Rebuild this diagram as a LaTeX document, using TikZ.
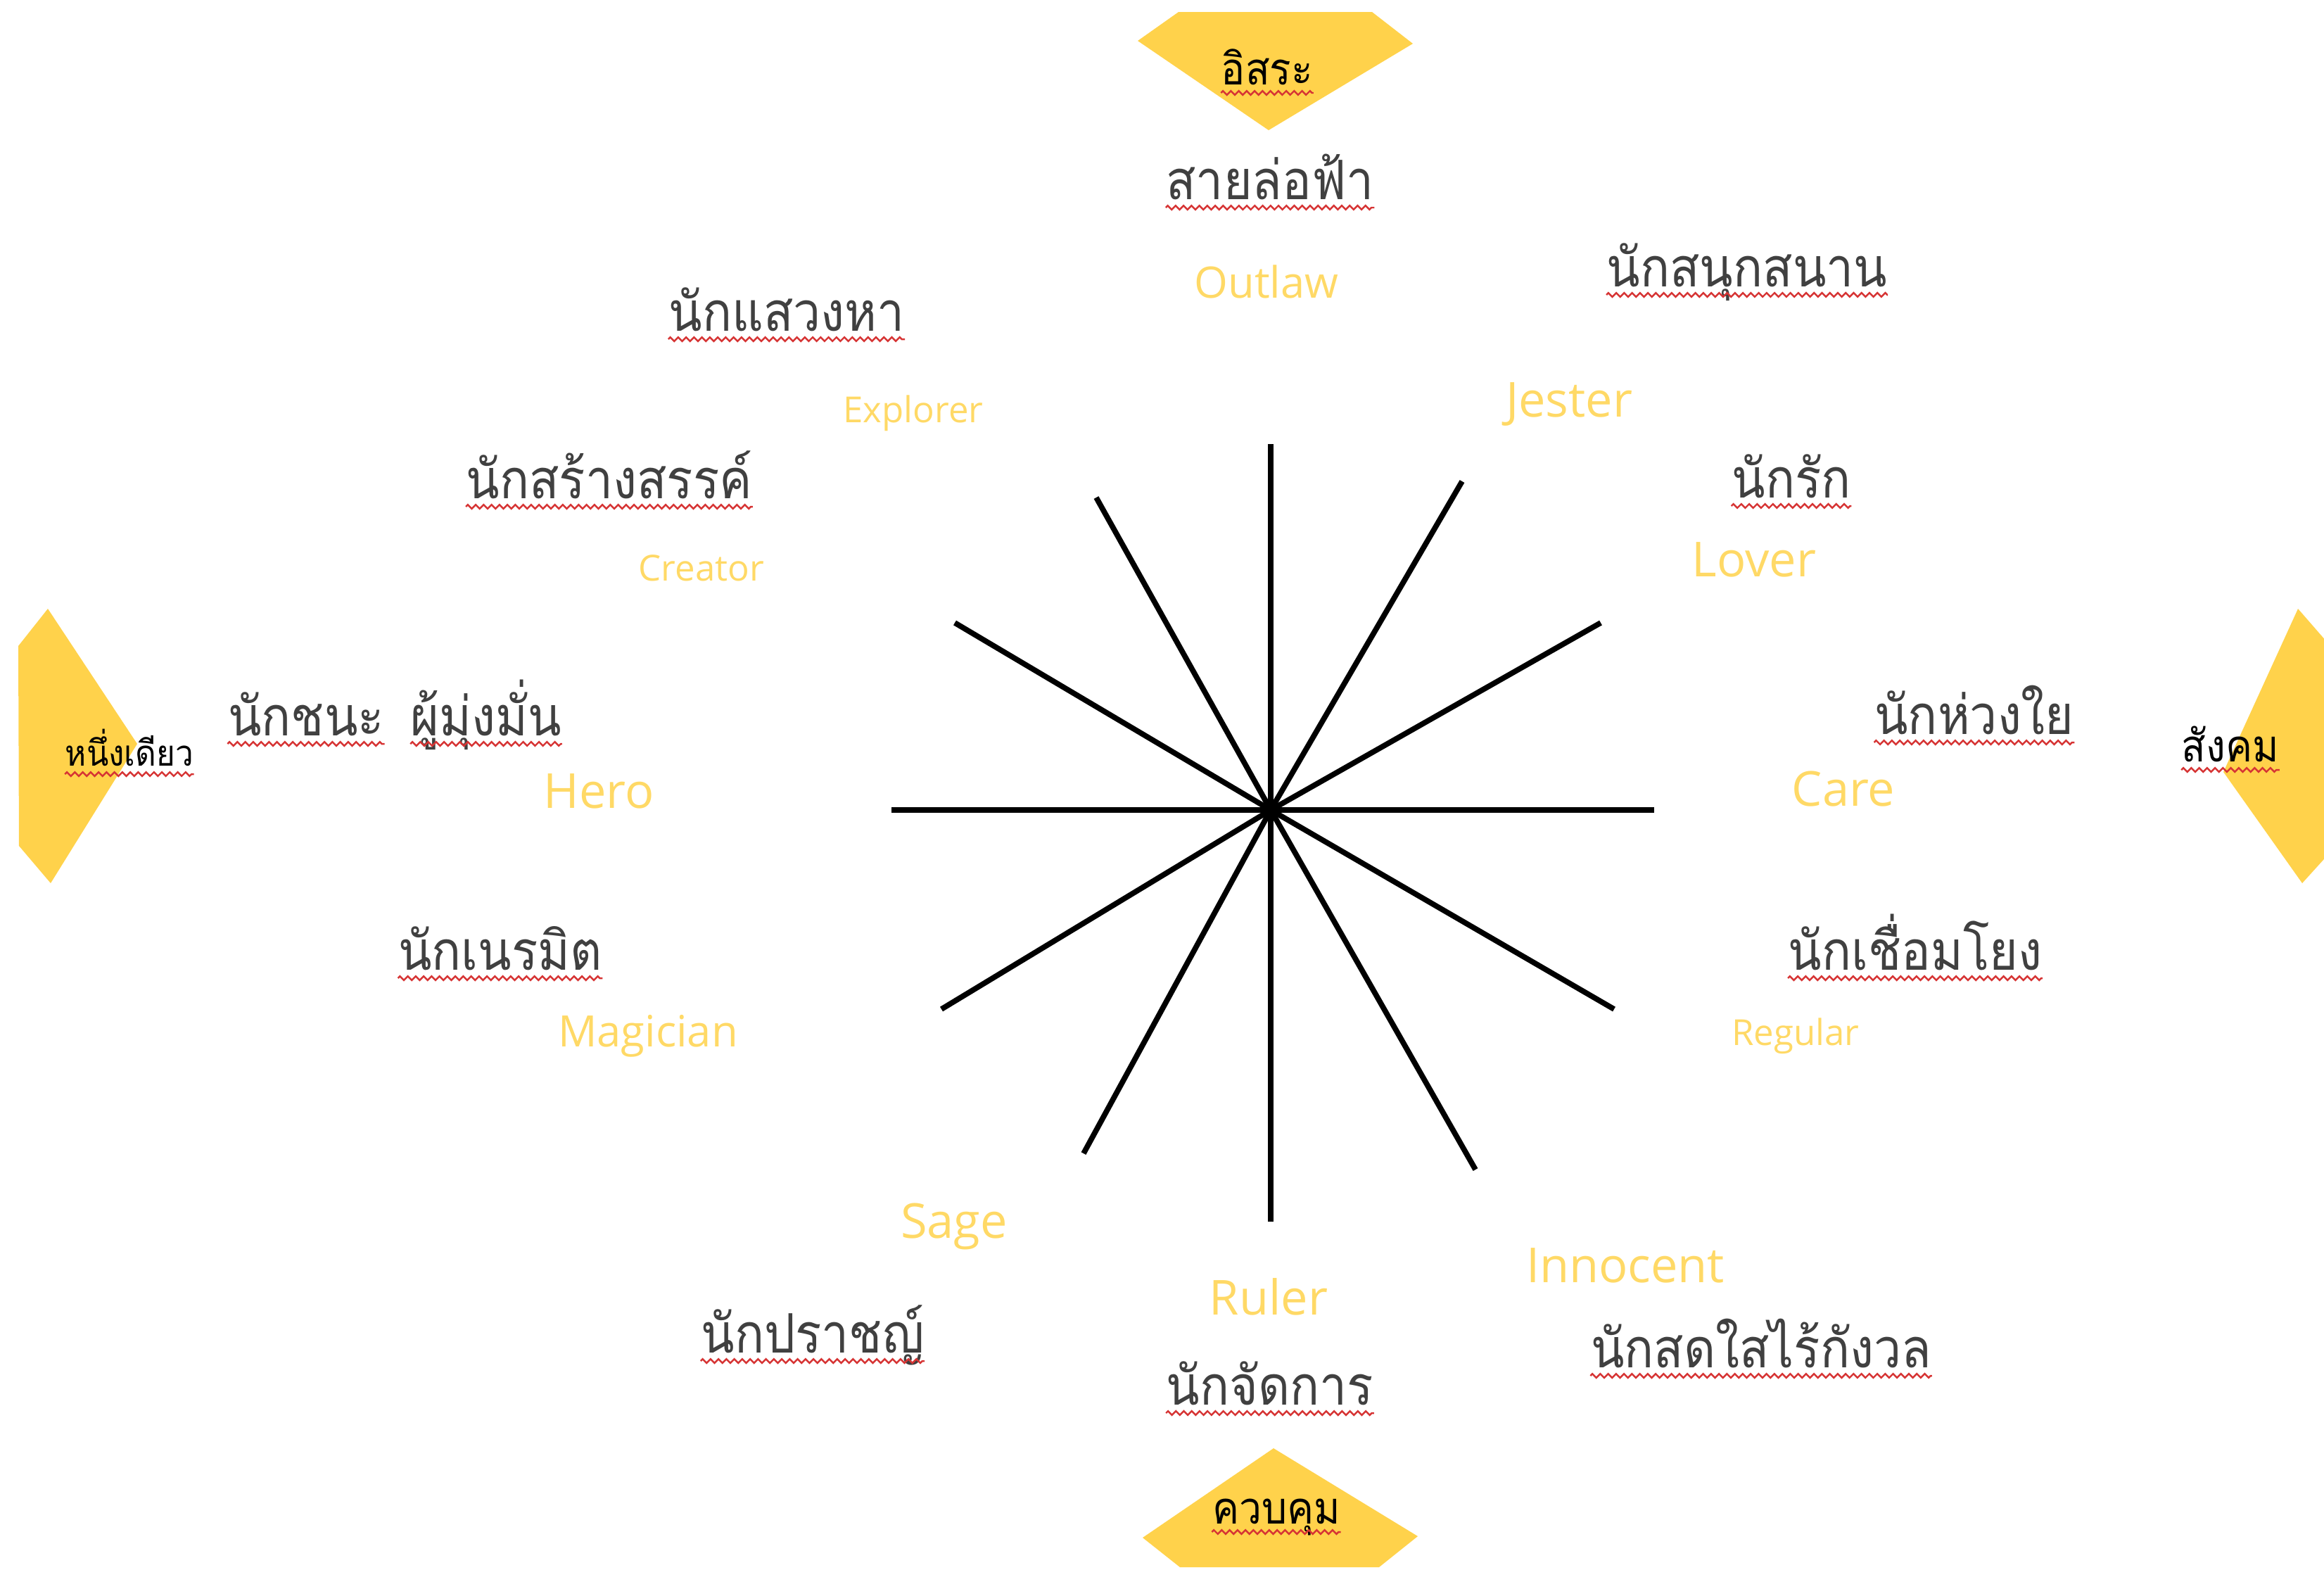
\documentclass[tikz,border=0pt]{standalone}
\usepackage{fontspec}
\setmainfont{Open Sans}
\newfontfamily\thaifont[Script=Thai, FakeStretch=0.9]{Loma}
\usepackage{tikz}
\usetikzlibrary{decorations.pathmorphing}
\definecolor{mygold}{RGB}{255,210,75}
\definecolor{mylabel}{RGB}{255,217,102}
\definecolor{myink}{RGB}{64,64,64}
\definecolor{mywave}{RGB}{214,52,52}
\tikzset{
  thai/.style={inner sep=0pt, anchor=base, text=myink,
    font=\thaifont\fontsize{22}{26}\selectfont},
  thaismall/.style={inner sep=0pt, anchor=base, text=black,
    font=\thaifont\fontsize{18}{22}\selectfont},
  latbig/.style={inner sep=0pt, anchor=base, text=mylabel,
    font=\fontsize{19.5}{23}\selectfont},
  latmid/.style={latbig, font=\fontsize{17.5}{21}\selectfont},
  latsmall/.style={latbig, font=\fontsize{14.5}{17}\selectfont},
  badge/.style={fill=mygold},
  spoke/.style={line width=2.2pt, color=black},
  squiggle/.style={draw=mywave, line width=0.7pt, decorate,
    decoration={zigzag, amplitude=0.8pt, segment length=3.2pt}}
}
\newcommand{\wavy}[1]{\draw[squiggle] ([yshift=-0.12cm]#1.base west) -- ([yshift=-0.12cm]#1.base east);}

\begin{document}
\begin{tikzpicture}
  \useasboundingbox (0,0) rectangle (33.03,-22.30);
  \clip (0,0) rectangle (33.03,-22.30);

  % Badges
  \fill[badge] (16.75,-0.17) -- (19.50,-0.17) -- (20.08,-0.62) -- (18.03,-1.85) -- (16.17,-0.58) -- cycle;
  \fill[badge] (18.10,-20.58) -- (20.15,-21.83) -- (19.60,-22.27) -- (16.77,-22.27) -- (16.24,-21.85) -- cycle;
  \fill[badge] (0.68,-8.65) -- (1.95,-10.57) -- (0.72,-12.55) -- (0.27,-12.02) -- (0.26,-9.18) -- cycle;
  \fill[badge] (32.66,-8.65) -- (33.40,-9.50) -- (33.40,-11.80) -- (32.72,-12.55) -- (31.60,-10.97) -- cycle;

  \node[thaismall] (free) at (18.01,-1.20) {อิสระ};
  \node[thaismall] (control) at (18.14,-21.65) {ควบคุม};
  \node[thaismall, font=\thaifont\fontsize{14.5}{18}\selectfont] (single) at (1.84,-10.88) {หนึ่งเดียว};
  \node[thaismall] (social) at (31.70,-10.82) {สังคม};

  % Wheel
  \coordinate (hub) at (18.06,-11.51);
  \coordinate (n) at (18.06,-6.31);
  \coordinate (s) at (18.06,-17.36);
  \coordinate (w) at (12.67,-11.51);
  \coordinate (e) at (23.51,-11.51);
  \coordinate (nnw) at (15.58,-7.07);
  \coordinate (wnw) at (13.57,-8.85);
  \coordinate (nne) at (20.78,-6.84);
  \coordinate (ene) at (22.75,-8.85);
  \coordinate (wsw) at (13.38,-14.34);
  \coordinate (ssw) at (15.40,-16.39);
  \coordinate (ese) at (22.94,-14.34);
  \coordinate (sse) at (20.97,-16.62);
  \draw[spoke] (hub) -- (n);
  \draw[spoke] (hub) -- (s);
  \draw[spoke] (hub) -- (w);
  \draw[spoke] (hub) -- (e);
  \draw[spoke] (hub) -- (nnw);
  \draw[spoke] (hub) -- (wnw);
  \draw[spoke] (hub) -- (nne);
  \draw[spoke] (hub) -- (ene);
  \draw[spoke] (hub) -- (wsw);
  \draw[spoke] (hub) -- (ssw);
  \draw[spoke] (hub) -- (ese);
  \draw[spoke] (hub) -- (sse);

  % Thai names
  \node[thai] (outlaw) at (18.05,-2.83) {สายล่อฟ้า};
  \node[thai] (jester) at (24.83,-4.07) {นักสนุกสนาน};
  \node[thai] (explorer) at (11.18,-4.70) {นักแสวงหา};
  \node[thai] (creator) at (8.66,-7.08) {นักสร้างสรรค์};
  \node[thai] (lover) at (25.46,-7.07) {นักรัก};
  \node[thai] (hero) at (4.35,-10.45) {นักชนะ};
  \node[thai] (hero2) at (6.91,-10.45) {ผู้มุ่งมั่น};
  \node[thai] (care) at (28.06,-10.43) {นักห่วงใย};
  \node[thai] (magician) at (7.11,-13.78) {นักเนรมิต};
  \node[thai] (regular) at (27.22,-13.78) {นักเชื่อมโยง};
  \node[thai] (sage) at (11.55,-19.22) {นักปราชญ์};
  \node[thai] (ruler) at (18.05,-19.96) {นักจัดการ};
  \node[thai] (innocent) at (25.03,-19.43) {นักสดใสไร้กังวล};

  % English names
  \node[latmid] (outlawE) at (18.00,-4.23) {Outlaw};
  \node[latbig] (jesterE) at (22.30,-5.92) {Jester};
  \node[latsmall] (explorerE) at (12.98,-6.00) {Explorer};
  \node[latsmall] (creatorE) at (9.97,-8.25) {Creator};
  \node[latbig] (loverE) at (24.93,-8.19) {Lover};
  \node[latbig] (heroE) at (8.51,-11.48) {Hero};
  \node[latbig] (careE) at (26.20,-11.45) {Care};
  \node[latmid] (magicianE) at (9.21,-14.87) {Magician};
  \node[latsmall] (regularE) at (25.52,-14.85) {Regular};
  \node[latbig] (sageE) at (13.56,-17.59) {Sage};
  \node[latbig] (rulerE) at (18.03,-18.68) {Ruler};
  \node[latbig] (innocentE) at (23.10,-18.22) {Innocent};

  % Spelling marks
  \wavy{free} \wavy{control} \wavy{single} \wavy{social}
  \wavy{outlaw} \wavy{jester} \wavy{explorer} \wavy{creator}
  \wavy{lover} \wavy{hero} \wavy{hero2} \wavy{care}
  \wavy{magician} \wavy{regular} \wavy{sage} \wavy{ruler} \wavy{innocent}
\end{tikzpicture}
\end{document}
